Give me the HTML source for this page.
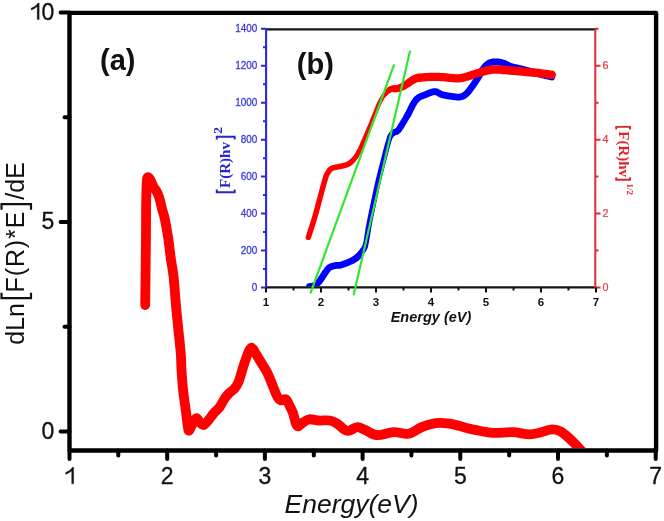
<!DOCTYPE html><html><head><meta charset="utf-8"><style>html,body{margin:0;padding:0;background:#fff;width:664px;height:521px;overflow:hidden}svg{display:block;will-change:transform}</style></head><body>
<svg width="664" height="521" viewBox="0 0 664 521" font-family="Liberation Sans, sans-serif">
<rect width="664" height="521" fill="#fff"/>
<defs><clipPath id="mc"><rect x="71.7" y="14.9" width="582" height="433.4"/></clipPath><clipPath id="ic"><rect x="267" y="29.8" width="327.5" height="256.7"/></clipPath></defs>
<g clip-path="url(#mc)"><path d="M145.2,305.0 C145.3,299.2 145.5,281.7 145.6,270.0 C145.7,258.3 145.9,245.3 146.0,235.0 C146.1,224.7 146.0,215.7 146.1,208.0 C146.2,200.3 146.3,194.0 146.5,189.0 C146.7,184.0 146.7,179.4 147.3,177.8 C147.9,176.2 149.0,177.8 150.0,179.2 C151.0,180.6 151.9,183.7 153.2,186.1 C154.5,188.5 156.6,191.1 157.7,193.5 C158.8,195.9 159.3,197.7 160.0,200.3 C160.7,202.9 161.3,206.0 162.1,209.2 C162.9,212.3 163.9,214.3 164.9,219.2 C165.9,224.1 167.3,232.1 168.3,238.5 C169.3,244.9 169.8,251.3 170.7,257.7 C171.6,264.1 172.8,269.8 173.6,276.9 C174.4,283.9 174.8,291.7 175.5,300.0 C176.2,308.3 177.2,317.9 178.1,326.9 C179.0,335.9 180.2,346.6 180.8,353.8 C181.4,361.0 181.1,363.9 181.5,370.0 C181.9,376.1 182.4,383.5 183.1,390.2 C183.8,396.9 185.0,404.2 185.8,410.3 C186.6,416.4 187.2,423.1 187.8,426.5 C188.4,429.9 188.3,430.9 189.1,430.5 C189.9,430.1 191.3,425.9 192.5,423.8 C193.7,421.8 195.2,418.3 196.5,418.2 C197.8,418.1 199.3,422.0 200.5,423.1 C201.7,424.2 202.6,425.5 203.9,425.0 C205.2,424.5 206.9,422.0 208.6,420.0 C210.3,418.0 212.2,415.1 214.0,413.0 C215.8,410.9 217.6,409.9 219.4,407.5 C221.2,405.1 223.1,400.8 224.7,398.5 C226.3,396.2 227.2,395.1 228.8,393.5 C230.4,391.9 232.5,390.9 234.1,389.0 C235.7,387.1 236.9,385.9 238.5,382.0 C240.1,378.1 241.9,370.6 243.6,365.7 C245.2,360.8 247.0,355.3 248.4,352.3 C249.8,349.3 250.6,347.5 251.9,347.8 C253.2,348.1 254.4,351.5 256.1,354.2 C257.8,356.9 260.0,360.6 261.9,363.8 C263.8,367.0 265.9,369.9 267.6,373.4 C269.4,376.9 270.8,381.1 272.4,384.9 C274.0,388.7 275.8,393.8 277.2,396.4 C278.6,399.0 279.6,399.8 281.0,400.3 C282.4,400.8 284.4,398.4 285.9,399.3 C287.3,400.2 288.5,403.7 289.7,406.0 C290.9,408.3 291.9,410.0 293.0,413.0 C294.1,416.0 295.1,421.7 296.0,423.9 C296.9,426.1 297.4,426.5 298.6,426.2 C299.8,425.9 301.5,423.4 303.3,422.3 C305.1,421.2 306.7,419.6 309.3,419.3 C311.9,419.0 315.5,420.3 318.9,420.5 C322.3,420.7 326.8,420.0 329.8,420.5 C332.8,421.0 334.6,422.0 337.0,423.5 C339.4,425.0 342.2,428.3 344.2,429.5 C346.2,430.7 346.8,431.1 349.0,430.7 C351.2,430.3 354.8,427.2 357.5,427.1 C360.2,427.0 361.8,428.6 365.0,429.9 C368.2,431.2 372.2,434.8 377.0,435.2 C381.8,435.6 388.3,432.4 393.6,432.2 C398.9,431.9 403.9,434.6 408.7,433.7 C413.5,432.8 417.7,428.7 422.2,426.9 C426.7,425.1 431.3,423.7 435.8,423.1 C440.3,422.6 445.3,423.1 449.3,423.6 C453.3,424.1 455.7,425.1 460.0,426.1 C464.3,427.2 469.6,428.8 475.1,429.9 C480.6,431.0 486.8,432.5 493.1,432.9 C499.4,433.3 506.7,431.9 512.7,432.2 C518.7,432.4 524.5,434.4 529.3,434.4 C534.1,434.4 537.5,433.1 541.3,432.2 C545.1,431.3 549.1,429.4 552.3,429.3 C555.5,429.2 557.6,429.8 560.5,431.3 C563.4,432.8 566.8,436.1 569.5,438.5 C572.2,440.9 574.8,443.8 577.0,446.0 C579.2,448.2 581.6,451.0 582.5,452.0" fill="none" stroke="#ff0000" stroke-width="9.8" stroke-linecap="round" stroke-linejoin="round"/></g>
<path d="M69.5,450.5 L69.5,12.9 L656.1,12.9 L656.1,450.5 Z" fill="none" stroke="#000" stroke-width="4.4" stroke-linejoin="round"/>
<path d="M60.6,431.5 H69.5 M60.6,222.0 H69.5 M60.6,12.5 H69.5 M64.5,326.8 H69.5 M64.5,117.2 H69.5 M69.5,450.5 V459 M167.2,450.5 V459 M264.9,450.5 V459 M362.6,450.5 V459 M460.3,450.5 V459 M558.0,450.5 V459 M655.7,450.5 V459 M118.3,450.5 V455.5 M216.1,450.5 V455.5 M313.8,450.5 V455.5 M411.4,450.5 V455.5 M509.2,450.5 V455.5 M606.9,450.5 V455.5" stroke="#000" stroke-width="4" stroke-linecap="round"/>
<text x="54.2" y="438.5" font-size="23" text-anchor="end" fill="#111" stroke="#111" stroke-width="0.3">0</text>
<text x="54.2" y="229.0" font-size="23" text-anchor="end" fill="#111" stroke="#111" stroke-width="0.3">5</text>
<path transform="translate(28.62,19.50) scale(0.01123,-0.01123)" d="M763,0 H942 V1466 H826 C780,1380 710,1300 610,1220 C510,1140 390,1075 223,1010 V838 C320,872 410,915 500,968 C590,1020 700,1090 763,1147 Z" fill="#111" stroke="#111" stroke-width="26"/>
<text x="41.41" y="19.5" font-size="23" fill="#111" stroke="#111" stroke-width="0.3">0</text>
<path transform="translate(63.10,483.80) scale(0.01123,-0.01123)" d="M763,0 H942 V1466 H826 C780,1380 710,1300 610,1220 C510,1140 390,1075 223,1010 V838 C320,872 410,915 500,968 C590,1020 700,1090 763,1147 Z" fill="#111" stroke="#111" stroke-width="26"/>
<text x="167.2" y="483.8" font-size="23" text-anchor="middle" fill="#111" stroke="#111" stroke-width="0.3">2</text>
<text x="264.9" y="483.8" font-size="23" text-anchor="middle" fill="#111" stroke="#111" stroke-width="0.3">3</text>
<text x="362.6" y="483.8" font-size="23" text-anchor="middle" fill="#111" stroke="#111" stroke-width="0.3">4</text>
<text x="460.3" y="483.8" font-size="23" text-anchor="middle" fill="#111" stroke="#111" stroke-width="0.3">5</text>
<text x="558.0" y="483.8" font-size="23" text-anchor="middle" fill="#111" stroke="#111" stroke-width="0.3">6</text>
<text x="655.7" y="483.8" font-size="23" text-anchor="middle" fill="#111" stroke="#111" stroke-width="0.3">7</text>
<text x="284.5" y="512.5" font-size="26.5" font-style="italic" fill="#111">Energy(eV)</text>
<g transform="translate(24,345) rotate(-90)" fill="#111" font-size="25"><text x="0.3" y="0">dLn</text><path d="M52.3,-22.5 H46.8 V7 H52.3 M135.2,-22.5 H140.8 V7 H135.2" stroke="#111" stroke-width="2.2" fill="none"/><text x="52.5" y="0" letter-spacing="0.9">F(R)*E</text><text x="145.3" y="0">/dE</text></g>
<text x="100" y="69.5" font-size="29" font-weight="bold" fill="#111">(a)</text>
<g clip-path="url(#ic)">
<path d="M364.62,247.62 L365.06,246.47 M365.06,246.47 L365.50,245.00 M365.50,245.00 L365.93,243.16 M365.93,243.16 L366.35,241.00 M366.35,241.00 L366.77,238.58 M366.77,238.58 L367.19,235.97 M367.19,235.97 L367.61,233.24 M367.61,233.24 L368.05,230.46 M368.05,230.46 L368.51,227.69 M368.51,227.69 L369.00,225.00 M369.00,225.00 L369.51,222.35 M369.51,222.35 L370.04,219.66 M370.04,219.66 L370.59,216.94 M370.59,216.94 L371.16,214.19 M371.16,214.19 L371.73,211.41 M371.73,211.41 L372.32,208.62 M372.32,208.62 L372.91,205.81 M372.91,205.81 L373.50,203.00 M373.50,203.00 L374.10,200.15 M374.10,200.15 L374.71,197.25 M374.71,197.25 L375.33,194.32 M375.33,194.32 L375.96,191.38 M375.96,191.38 L376.60,188.45 M376.60,188.45 L377.23,185.56 M377.23,185.56 L377.87,182.74 M377.87,182.74 L378.50,180.00 M378.50,180.00 L379.14,177.32 M379.14,177.32 L379.80,174.67 M379.80,174.67 L380.46,172.06 M380.46,172.06 L381.12,169.50 M381.12,169.50 L381.77,167.00 M381.77,167.00 L382.41,164.58 M382.41,164.58 L383.02,162.24 M383.02,162.24 L383.60,160.00 M383.60,160.00 L384.15,157.84 M384.15,157.84 L384.68,155.76 M384.68,155.76 L385.19,153.75 M385.19,153.75 L385.68,151.81 M385.68,151.81 L386.16,149.97 M386.16,149.97 L386.62,148.21 M386.62,148.21 L387.06,146.55 M387.06,146.55 L387.50,145.00 M387.50,145.00 L387.91,143.55 M387.91,143.55 L388.30,142.20 M388.30,142.20 L388.67,140.94 M388.67,140.94 L389.02,139.78 M389.02,139.78 L389.38,138.71 M389.38,138.71 L389.74,137.72 M389.74,137.72 L390.11,136.82 M390.11,136.82 L390.50,136.00" stroke="#0000ff" stroke-width="5.50" stroke-linecap="round" fill="none"/><path d="M362.88,250.33 L363.31,249.80 M363.31,249.80 L363.75,249.22 M363.75,249.22 L364.19,248.51 M364.19,248.51 L364.62,247.62 M390.50,136.00 L390.91,135.29 M390.91,135.29 L391.33,134.70 M391.33,134.70 L391.75,134.22 M391.75,134.22 L392.19,133.81 M392.19,133.81 L392.63,133.46" stroke="#0000ff" stroke-width="5.75" stroke-linecap="round" fill="none"/><path d="M360.73,253.38 L361.15,252.79 M361.15,252.79 L361.57,252.17 M361.57,252.17 L362.00,251.50 M362.00,251.50 L362.44,250.88 M362.44,250.88 L362.88,250.33 M392.63,133.46 L393.08,133.14 M393.08,133.14 L393.54,132.83 M393.54,132.83 L394.00,132.50 M394.00,132.50 L394.47,132.22" stroke="#0000ff" stroke-width="6.00" stroke-linecap="round" fill="none"/><path d="M358.50,256.00 L358.99,255.50 M358.99,255.50 L359.45,254.99 M359.45,254.99 L359.89,254.47 M359.89,254.47 L360.31,253.94 M360.31,253.94 L360.73,253.38 M394.47,132.22 L394.93,132.05 M394.93,132.05 L395.40,131.93 M395.40,131.93 L395.88,131.81 M395.88,131.81 L396.37,131.66" stroke="#0000ff" stroke-width="6.25" stroke-linecap="round" fill="none"/><path d="M356.41,257.84 L356.95,257.41 M356.95,257.41 L357.48,256.96 M357.48,256.96 L358.00,256.49 M358.00,256.49 L358.50,256.00 M396.37,131.66 L396.88,131.42 M396.88,131.42 L397.42,131.05 M397.42,131.05 L398.00,130.50 M398.00,130.50 L398.62,129.75 M398.62,129.75 L399.28,128.83 M399.28,128.83 L399.97,127.79 M399.97,127.79 L400.69,126.66 M400.69,126.66 L401.41,125.47 M401.41,125.47 L402.12,124.28 M402.12,124.28 L402.83,123.11 M402.83,123.11 L403.50,122.00 M403.50,122.00 L404.15,120.94 M404.15,120.94 L404.79,119.90 M404.79,119.90 L405.42,118.86 M405.42,118.86 L406.04,117.81 M406.04,117.81 L406.66,116.76 M406.66,116.76 L407.28,115.70 M407.28,115.70 L407.89,114.61" stroke="#0000ff" stroke-width="6.50" stroke-linecap="round" fill="none"/><path d="M309.50,286.50 L309.90,286.44 M309.90,286.44 L310.43,286.39 M310.43,286.39 L311.06,286.33 M311.06,286.33 L311.76,286.25 M311.76,286.25 L312.50,286.14 M312.50,286.14 L313.24,285.98 M313.24,285.98 L313.95,285.78 M313.95,285.78 L314.60,285.50 M314.60,285.50 L315.19,285.18 M315.19,285.18 L315.75,284.83 M315.75,284.83 L316.30,284.44 M316.30,284.44 L316.84,284.00 M316.84,284.00 L317.39,283.50 M317.39,283.50 L317.96,282.92 M317.96,282.92 L318.56,282.26 M318.56,282.26 L319.20,281.50 M319.20,281.50 L319.90,280.59 M319.90,280.59 L320.66,279.51 M320.66,279.51 L321.46,278.32 M321.46,278.32 L322.28,277.06 M322.28,277.06 L323.09,275.80 M323.09,275.80 L323.87,274.59 M323.87,274.59 L324.62,273.47 M324.62,273.47 L325.30,272.50 M325.30,272.50 L325.90,271.66 M325.90,271.66 L326.44,270.90 M326.44,270.90 L326.93,270.20 M326.93,270.20 L327.39,269.56 M327.39,269.56 L327.86,268.98 M327.86,268.98 L328.35,268.45 M328.35,268.45 L328.89,267.95 M328.89,267.95 L329.50,267.50 M329.50,267.50 L330.19,267.09 M330.19,267.09 L330.95,266.75 M330.95,266.75 L331.76,266.46 M331.76,266.46 L332.59,266.21 M332.59,266.21 L333.43,265.99 M333.43,265.99 L334.24,265.81 M334.24,265.81 L335.00,265.65 M335.00,265.65 L335.70,265.50 M335.70,265.50 L336.30,265.40 M336.30,265.40 L336.82,265.36 M336.82,265.36 L337.29,265.37 M337.29,265.37 L337.74,265.39 M337.74,265.39 L338.20,265.41 M338.20,265.41 L338.71,265.40 M338.71,265.40 L339.30,265.34 M339.30,265.34 L340.00,265.20 M340.00,265.20 L340.84,264.98 M340.84,264.98 L341.79,264.70 M341.79,264.70 L342.82,264.38 M342.82,264.38 L343.89,264.02 M343.89,264.02 L344.98,263.64 M344.98,263.64 L346.05,263.25 M346.05,263.25 L347.07,262.87 M347.07,262.87 L348.00,262.50 M348.00,262.50 L348.86,262.14 M348.86,262.14 L349.68,261.78 M349.68,261.78 L350.46,261.42 M350.46,261.42 L351.22,261.05 M351.22,261.05 L351.95,260.67 M351.95,260.67 L352.65,260.29 M352.65,260.29 L353.34,259.90 M353.34,259.90 L354.00,259.50 M354.00,259.50 L354.64,259.09 M354.64,259.09 L355.25,258.68 M355.25,258.68 L355.84,258.27 M355.84,258.27 L356.41,257.84 M407.89,114.61 L408.50,113.50 M408.50,113.50 L409.11,112.34 M409.11,112.34 L409.72,111.11 M409.72,111.11 L410.32,109.86 M410.32,109.86 L410.92,108.59 M410.92,108.59 L411.52,107.35 M411.52,107.35 L412.11,106.15 M412.11,106.15 L412.71,105.03 M412.71,105.03 L413.30,104.00 M413.30,104.00 L413.87,103.06 M413.87,103.06 L414.41,102.19 M414.41,102.19 L414.94,101.38 M414.94,101.38 L415.48,100.62 M415.48,100.62 L416.03,99.91 M416.03,99.91 L416.62,99.24 M416.62,99.24 L417.27,98.60 M417.27,98.60 L418.00,98.00 M418.00,98.00 L418.80,97.45 M418.80,97.45 L419.66,96.96 M419.66,96.96 L420.57,96.52 M420.57,96.52 L421.52,96.11 M421.52,96.11 L422.51,95.73 M422.51,95.73 L423.52,95.36 M423.52,95.36 L424.55,94.99 M424.55,94.99 L425.60,94.60 M425.60,94.60 L426.69,94.16 M426.69,94.16 L427.83,93.68 M427.83,93.68 L429.02,93.18 M429.02,93.18 L430.23,92.70 M430.23,92.70 L431.43,92.27 M431.43,92.27 L432.60,91.92 M432.60,91.92 L433.73,91.69 M433.73,91.69 L434.80,91.60 M434.80,91.60 L435.78,91.70 M435.78,91.70 L436.68,91.96 M436.68,91.96 L437.54,92.34 M437.54,92.34 L438.37,92.80 M438.37,92.80 L439.20,93.30 M439.20,93.30 L440.07,93.79 M440.07,93.79 L440.99,94.24 M440.99,94.24 L442.00,94.60 M442.00,94.60 L443.10,94.89 M443.10,94.89 L444.28,95.16 M444.28,95.16 L445.51,95.42 M445.51,95.42 L446.77,95.65 M446.77,95.65 L448.05,95.87 M448.05,95.87 L449.31,96.06 M449.31,96.06 L450.53,96.24 M450.53,96.24 L451.70,96.40 M451.70,96.40 L452.83,96.56 M452.83,96.56 L453.95,96.72 M453.95,96.72 L455.05,96.87 M455.05,96.87 L456.13,97.00 M456.13,97.00 L457.18,97.09 M457.18,97.09 L458.20,97.13 M458.20,97.13 L459.17,97.11 M459.17,97.11 L460.10,97.00 M460.10,97.00 L460.96,96.83 M460.96,96.83 L461.77,96.61 M461.77,96.61 L462.52,96.34 M462.52,96.34 L463.24,96.01 M463.24,96.01 L463.95,95.61 M463.95,95.61 L464.65,95.15 M464.65,95.15 L465.36,94.61 M465.36,94.61 L466.10,94.00 M466.10,94.00 L466.86,93.29 M466.86,93.29 L467.62,92.48 M467.62,92.48 L468.38,91.58 M468.38,91.58 L469.15,90.62 M469.15,90.62 L469.92,89.62 M469.92,89.62 L470.68,88.59 M470.68,88.59 L471.44,87.54 M471.44,87.54 L472.20,86.50 M472.20,86.50 L472.96,85.44 M472.96,85.44 L473.74,84.34 M473.74,84.34 L474.51,83.21 M474.51,83.21 L475.28,82.06 M475.28,82.06 L476.04,80.90 M476.04,80.90 L476.79,79.75 M476.79,79.75 L477.51,78.61 M477.51,78.61 L478.20,77.50 M478.20,77.50 L478.85,76.40 M478.85,76.40 L479.46,75.28 M479.46,75.28 L480.04,74.16 M480.04,74.16 L480.60,73.05 M480.60,73.05 L481.16,71.97 M481.16,71.97 L481.74,70.92 M481.74,70.92 L482.35,69.93 M482.35,69.93 L483.00,69.00 M483.00,69.00 L483.68,68.12 M483.68,68.12 L484.39,67.26 M484.39,67.26 L485.10,66.43 M485.10,66.43 L485.84,65.66 M485.84,65.66 L486.60,64.93 M486.60,64.93 L487.38,64.28 M487.38,64.28 L488.18,63.70 M488.18,63.70 L489.00,63.20 M489.00,63.20 L489.84,62.79 M489.84,62.79 L490.71,62.47 M490.71,62.47 L491.59,62.22 M491.59,62.22 L492.50,62.03 M492.50,62.03 L493.42,61.90 M493.42,61.90 L494.37,61.83 M494.37,61.83 L495.33,61.80 M495.33,61.80 L496.30,61.80 M496.30,61.80 L497.32,61.86 M497.32,61.86 L498.40,61.98 M498.40,61.98 L499.51,62.16 M499.51,62.16 L500.62,62.39 M500.62,62.39 L501.73,62.65 M501.73,62.65 L502.79,62.92 M502.79,62.92 L503.79,63.21 M503.79,63.21 L504.70,63.50 M504.70,63.50 L505.46,63.79 M505.46,63.79 L506.06,64.11 M506.06,64.11 L506.56,64.45 M506.56,64.45 L507.04,64.81 M507.04,64.81 L507.56,65.17 M507.56,65.17 L508.19,65.55 M508.19,65.55 L508.98,65.92" stroke="#0000ff" stroke-width="6.75" stroke-linecap="round" fill="none"/><path d="M508.98,65.92 L510.00,66.30 M510.00,66.30 L511.26,66.67 M511.26,66.67 L512.68,67.04 M512.68,67.04 L514.25,67.40 M514.25,67.40 L515.93,67.78 M515.93,67.78 L517.70,68.17 M517.70,68.17 L519.54,68.59 M519.54,68.59 L521.42,69.03 M521.42,69.03 L523.30,69.50 M523.30,69.50 L525.27,70.03 M525.27,70.03 L527.38,70.62 M527.38,70.62 L529.57,71.24 M529.57,71.24 L531.81,71.88 M531.81,71.88 L534.03,72.52 M534.03,72.52 L536.18,73.13 M536.18,73.13 L538.22,73.70 M538.22,73.70 L540.10,74.20 M540.10,74.20 L541.88,74.65 M541.88,74.65 L543.64,75.08 M543.64,75.08 L545.34,75.48 M545.34,75.48 L546.95,75.84 M546.95,75.84 L548.43,76.17 M548.43,76.17 L549.74,76.46 M549.74,76.46 L550.84,76.71 M550.84,76.71 L551.70,76.90" stroke="#0000ff" stroke-width="7.00" stroke-linecap="round" fill="none"/>
<path d="M358.77,151.72 L359.67,149.84 M359.67,149.84 L360.56,147.88 M360.56,147.88 L361.45,145.86 M361.45,145.86 L362.32,143.84 M362.32,143.84 L363.17,141.88 M363.17,141.88 L364.00,140.00 M364.00,140.00 L364.80,138.20 M364.80,138.20 L365.58,136.42 M365.58,136.42 L366.35,134.66 M366.35,134.66 L367.09,132.91 M367.09,132.91 L367.83,131.18 M367.83,131.18 L368.56,129.45 M368.56,129.45 L369.28,127.72 M369.28,127.72 L370.00,126.00 M370.00,126.00 L370.72,124.25 M370.72,124.25 L371.44,122.48 M371.44,122.48 L372.16,120.70 M372.16,120.70 L372.87,118.94 M372.87,118.94 L373.56,117.20 M373.56,117.20 L374.24,115.52 M374.24,115.52 L374.88,113.92 M374.88,113.92 L375.50,112.40 M375.50,112.40 L376.08,110.98 M376.08,110.98 L376.61,109.63 M376.61,109.63 L377.12,108.35 M377.12,108.35 L377.61,107.12 M377.61,107.12 L378.09,105.95 M378.09,105.95 L378.57,104.81 M378.57,104.81 L379.07,103.69 M379.07,103.69 L379.60,102.60 M379.60,102.60 L380.14,101.53 M380.14,101.53 L380.68,100.50 M380.68,100.50 L381.22,99.51 M381.22,99.51 L381.77,98.54 M381.77,98.54 L382.34,97.61 M382.34,97.61 L382.93,96.71 M382.93,96.71 L383.55,95.84 M383.55,95.84 L384.20,95.00 M384.20,95.00 L384.89,94.16" stroke="#ff0000" stroke-width="4.50" stroke-linecap="round" fill="none"/><path d="M356.12,156.37 L357.00,155.00 M357.00,155.00 L357.88,153.45 M357.88,153.45 L358.77,151.72 M384.89,94.16 L385.60,93.33" stroke="#ff0000" stroke-width="4.75" stroke-linecap="round" fill="none"/><path d="M353.43,159.78 L354.32,158.75 M354.32,158.75 L355.22,157.62 M355.22,157.62 L356.12,156.37 M385.60,93.33 L386.35,92.51 M386.35,92.51 L387.11,91.72" stroke="#ff0000" stroke-width="5.00" stroke-linecap="round" fill="none"/><path d="M351.67,161.55 L352.54,160.71 M352.54,160.71 L353.43,159.78 M387.11,91.72 L387.90,91.00" stroke="#ff0000" stroke-width="5.25" stroke-linecap="round" fill="none"/><path d="M308.40,237.30 L308.90,235.74 M308.90,235.74 L309.57,233.67 M309.57,233.67 L310.36,231.21 M310.36,231.21 L311.24,228.46 M311.24,228.46 L312.17,225.56 M312.17,225.56 L313.10,222.60 M313.10,222.60 L313.99,219.71 M313.99,219.71 L314.80,217.00 M314.80,217.00 L315.55,214.39 M315.55,214.39 L316.29,211.73 M316.29,211.73 L317.02,209.04 M317.02,209.04 L317.74,206.36 M317.74,206.36 L318.44,203.69 M318.44,203.69 L319.14,201.06 M319.14,201.06 L319.83,198.49 M319.83,198.49 L320.50,196.00 M320.50,196.00 L321.18,193.52 M321.18,193.52 L321.86,191.00 M321.86,191.00 L322.54,188.48 M322.54,188.48 L323.20,186.03 M323.20,186.03 L323.84,183.70 M323.84,183.70 L324.44,181.55 M324.44,181.55 L325.00,179.63 M325.00,179.63 L325.50,178.00 M325.50,178.00 L325.93,176.70 M325.93,176.70 L326.28,175.71 M326.28,175.71 L326.58,174.96 M326.58,174.96 L326.84,174.38 M326.84,174.38 L327.10,173.90 M327.10,173.90 L327.36,173.48 M327.36,173.48 L327.66,173.03 M327.66,173.03 L328.00,172.50 M328.00,172.50 L328.37,171.91 M328.37,171.91 L328.75,171.34 M328.75,171.34 L329.13,170.78 M329.13,170.78 L329.53,170.25 M329.53,170.25 L329.96,169.75 M329.96,169.75 L330.43,169.29 M330.43,169.29 L330.94,168.87 M330.94,168.87 L331.50,168.50 M331.50,168.50 L332.13,168.19 M332.13,168.19 L332.81,167.95 M332.81,167.95 L333.54,167.75 M333.54,167.75 L334.30,167.59 M334.30,167.59 L335.09,167.45 M335.09,167.45 L335.89,167.32 M335.89,167.32 L336.70,167.17 M336.70,167.17 L337.50,167.00 M337.50,167.00 L338.31,166.82 M338.31,166.82 L339.15,166.65 M339.15,166.65 L340.00,166.48 M340.00,166.48 L340.86,166.31 M340.86,166.31 L341.72,166.14 M341.72,166.14 L342.57,165.95 M342.57,165.95 L343.40,165.74 M343.40,165.74 L344.20,165.50 M344.20,165.50 L344.96,165.27 M344.96,165.27 L345.69,165.07 M345.69,165.07 L346.39,164.88 M346.39,164.88 L347.08,164.66 M347.08,164.66 L347.78,164.38 M347.78,164.38 L348.49,164.04 M348.49,164.04 L349.22,163.58 M349.22,163.58 L350.00,163.00 M350.00,163.00 L350.82,162.31 M350.82,162.31 L351.67,161.55 M387.90,91.00 L388.71,90.34 M388.71,90.34 L389.55,89.77" stroke="#ff0000" stroke-width="5.50" stroke-linecap="round" fill="none"/><path d="M389.55,89.77 L390.40,89.30" stroke="#ff0000" stroke-width="5.75" stroke-linecap="round" fill="none"/><path d="M390.40,89.30 L391.28,88.99 M391.28,88.99 L392.20,88.82" stroke="#ff0000" stroke-width="6.00" stroke-linecap="round" fill="none"/><path d="M392.20,88.82 L393.14,88.77" stroke="#ff0000" stroke-width="6.25" stroke-linecap="round" fill="none"/><path d="M393.14,88.77 L394.11,88.78" stroke="#ff0000" stroke-width="6.50" stroke-linecap="round" fill="none"/><path d="M394.11,88.78 L395.08,88.80" stroke="#ff0000" stroke-width="6.75" stroke-linecap="round" fill="none"/><path d="M395.08,88.80 L396.06,88.79 M396.06,88.79 L397.04,88.71 M397.04,88.71 L398.00,88.50 M398.00,88.50 L398.96,88.19" stroke="#ff0000" stroke-width="7.00" stroke-linecap="round" fill="none"/><path d="M398.96,88.19 L399.92,87.81 M399.92,87.81 L400.88,87.39 M400.88,87.39 L401.84,86.92 M401.84,86.92 L402.81,86.42 M402.81,86.42 L403.77,85.90" stroke="#ff0000" stroke-width="7.25" stroke-linecap="round" fill="none"/><path d="M403.77,85.90 L404.74,85.35 M404.74,85.35 L405.70,84.80 M405.70,84.80 L406.67,84.20 M406.67,84.20 L407.66,83.53 M407.66,83.53 L408.66,82.81" stroke="#ff0000" stroke-width="7.50" stroke-linecap="round" fill="none"/><path d="M408.66,82.81 L409.65,82.09 M409.65,82.09 L410.63,81.37 M410.63,81.37 L411.59,80.70 M411.59,80.70 L412.51,80.10 M412.51,80.10 L413.40,79.60" stroke="#ff0000" stroke-width="7.75" stroke-linecap="round" fill="none"/><path d="M413.40,79.60 L414.20,79.20 M414.20,79.20 L414.89,78.87 M414.89,78.87 L415.53,78.60 M415.53,78.60 L416.16,78.38 M416.16,78.38 L416.83,78.19 M416.83,78.19 L417.58,78.02 M417.58,78.02 L418.45,77.86" stroke="#ff0000" stroke-width="8.00" stroke-linecap="round" fill="none"/><path d="M418.45,77.86 L419.50,77.70 M419.50,77.70 L420.76,77.54 M420.76,77.54 L422.19,77.40 M422.19,77.40 L423.75,77.28 M423.75,77.28 L425.39,77.17 M425.39,77.17 L427.07,77.08 M427.07,77.08 L428.73,77.00 M428.73,77.00 L430.32,76.94 M430.32,76.94 L431.80,76.90 M431.80,76.90 L433.14,76.87 M433.14,76.87 L434.37,76.86 M434.37,76.86 L435.54,76.86 M435.54,76.86 L436.69,76.88 M436.69,76.88 L437.86,76.91 M437.86,76.91 L439.11,76.96 M439.11,76.96 L440.48,77.02 M440.48,77.02 L442.00,77.10 M442.00,77.10 L443.75,77.22 M443.75,77.22 L445.71,77.39 M445.71,77.39 L447.81,77.60 M447.81,77.60 L449.96,77.81 M449.96,77.81 L452.11,78.00 M452.11,78.00 L454.16,78.17 M454.16,78.17 L456.05,78.27 M456.05,78.27 L457.70,78.30 M457.70,78.30 L459.07,78.26 M459.07,78.26 L460.23,78.17 M460.23,78.17 L461.22,78.04 M461.22,78.04 L462.12,77.86 M462.12,77.86 L463.00,77.65 M463.00,77.65 L463.91,77.40 M463.91,77.40 L464.92,77.12 M464.92,77.12 L466.10,76.80 M466.10,76.80 L467.46,76.43 M467.46,76.43 L468.95,75.98 M468.95,75.98 L470.53,75.48 M470.53,75.48 L472.15,74.96 M472.15,74.96 L473.77,74.42 M473.77,74.42 L475.35,73.91 M475.35,73.91 L476.84,73.42 M476.84,73.42 L478.20,73.00 M478.20,73.00 L479.42,72.62 M479.42,72.62 L480.53,72.27 M480.53,72.27 L481.56,71.94" stroke="#ff0000" stroke-width="8.25" stroke-linecap="round" fill="none"/><path d="M481.56,71.94 L482.55,71.64 M482.55,71.64 L483.52,71.35 M483.52,71.35 L484.50,71.08 M484.50,71.08 L485.51,70.83 M485.51,70.83 L486.60,70.60 M486.60,70.60 L487.72,70.38 M487.72,70.38 L488.84,70.16 M488.84,70.16 L489.97,69.96 M489.97,69.96 L491.12,69.78 M491.12,69.78 L492.31,69.63 M492.31,69.63 L493.56,69.51 M493.56,69.51 L494.89,69.43 M494.89,69.43 L496.30,69.40 M496.30,69.40 L497.74,69.42 M497.74,69.42 L499.16,69.49 M499.16,69.49 L500.61,69.59 M500.61,69.59 L502.14,69.73 M502.14,69.73 L503.79,69.90 M503.79,69.90 L505.62,70.09 M505.62,70.09 L507.68,70.29 M507.68,70.29 L510.00,70.50 M510.00,70.50 L512.72,70.73 M512.72,70.73 L515.85,71.00 M515.85,71.00 L519.26,71.29 M519.26,71.29 L522.82,71.59 M522.82,71.59 L526.39,71.91 M526.39,71.91 L529.85,72.22 M529.85,72.22 L533.06,72.52 M533.06,72.52 L535.90,72.80 M535.90,72.80 L538.47,73.08 M538.47,73.08 L540.93,73.37 M540.93,73.37 L543.26,73.66 M543.26,73.66 L545.42,73.94 M545.42,73.94 L547.38,74.21 M547.38,74.21 L549.10,74.45 M549.10,74.45 L550.55,74.65 M550.55,74.65 L551.70,74.80" stroke="#ff0000" stroke-width="8.50" stroke-linecap="round" fill="none"/>
</g>
<path d="M266,29.3 H595.3 M266,287.4 H595.3" stroke="#151515" stroke-width="2.2" fill="none"/>
<path d="M266.1,28.3 V288.5" stroke="#2a2ad8" stroke-width="2.1" fill="none"/>
<path d="M261,287.5 H266 M261,250.5 H266 M261,213.6 H266 M261,176.6 H266 M261,139.7 H266 M261,102.7 H266 M261,65.8 H266 M261,28.8 H266 M263,269.0 H266 M263,232.1 H266 M263,195.1 H266 M263,158.2 H266 M263,121.2 H266 M263,84.2 H266 M263,47.3 H266" stroke="#2a2ad8" stroke-width="2" fill="none"/>
<text transform="translate(257.3,290.6) scale(0.92,1)" font-size="10.8" text-anchor="end" fill="#3a3ada" stroke="#3a3ada" stroke-width="0.3">0</text>
<text transform="translate(257.3,253.6) scale(0.92,1)" font-size="10.8" text-anchor="end" fill="#3a3ada" stroke="#3a3ada" stroke-width="0.3">200</text>
<text transform="translate(257.3,216.7) scale(0.92,1)" font-size="10.8" text-anchor="end" fill="#3a3ada" stroke="#3a3ada" stroke-width="0.3">400</text>
<text transform="translate(257.3,179.7) scale(0.92,1)" font-size="10.8" text-anchor="end" fill="#3a3ada" stroke="#3a3ada" stroke-width="0.3">600</text>
<text transform="translate(257.3,142.8) scale(0.92,1)" font-size="10.8" text-anchor="end" fill="#3a3ada" stroke="#3a3ada" stroke-width="0.3">800</text>
<text transform="translate(257.3,105.8) scale(0.92,1)" font-size="10.8" text-anchor="end" fill="#3a3ada" stroke="#3a3ada" stroke-width="0.3">1000</text>
<text transform="translate(257.3,68.9) scale(0.92,1)" font-size="10.8" text-anchor="end" fill="#3a3ada" stroke="#3a3ada" stroke-width="0.3">1200</text>
<text transform="translate(257.3,31.9) scale(0.92,1)" font-size="10.8" text-anchor="end" fill="#3a3ada" stroke="#3a3ada" stroke-width="0.3">1400</text>
<path d="M595.3,28 V288.5" stroke="#e62a35" stroke-width="2" fill="none"/>
<path d="M595.3,287.5 H600.5 M595.3,213.6 H600.5 M595.3,139.7 H600.5 M595.3,65.8 H600.5 M595.3,250.5 H598.5 M595.3,176.6 H598.5 M595.3,102.7 H598.5 M595.3,28.8 H598.5" stroke="#e62a35" stroke-width="2" fill="none"/>
<text x="602.5" y="290.6" font-size="10.8" fill="#e23a48" stroke="#e23a48" stroke-width="0.2">0</text>
<text x="602.5" y="216.7" font-size="10.8" fill="#e23a48" stroke="#e23a48" stroke-width="0.2">2</text>
<text x="602.5" y="142.8" font-size="10.8" fill="#e23a48" stroke="#e23a48" stroke-width="0.2">4</text>
<text x="602.5" y="68.9" font-size="10.8" fill="#e23a48" stroke="#e23a48" stroke-width="0.2">6</text>
<path d="M266.0,287.5 V292.5 M321.0,287.5 V292.5 M376.0,287.5 V292.5 M431.0,287.5 V292.5 M486.0,287.5 V292.5 M541.0,287.5 V292.5 M596.0,287.5 V292.5 M293.5,287.5 V290.5 M348.5,287.5 V290.5 M403.5,287.5 V290.5 M458.5,287.5 V290.5 M513.5,287.5 V290.5 M568.5,287.5 V290.5" stroke="#111" stroke-width="2" fill="none"/>
<path d="M310.7,292.6 L393.8,65.3 M353.8,294.3 L409.9,51.5" stroke="#2ee82e" stroke-width="2.2" stroke-linecap="round" fill="none"/>
<text x="266.0" y="305.5" font-size="11.5" font-weight="bold" text-anchor="middle" fill="#111">1</text>
<text x="321.0" y="305.5" font-size="11.5" font-weight="bold" text-anchor="middle" fill="#111">2</text>
<text x="376.0" y="305.5" font-size="11.5" font-weight="bold" text-anchor="middle" fill="#111">3</text>
<text x="431.0" y="305.5" font-size="11.5" font-weight="bold" text-anchor="middle" fill="#111">4</text>
<text x="486.0" y="305.5" font-size="11.5" font-weight="bold" text-anchor="middle" fill="#111">5</text>
<text x="541.0" y="305.5" font-size="11.5" font-weight="bold" text-anchor="middle" fill="#111">6</text>
<text x="596.0" y="305.5" font-size="11.5" font-weight="bold" text-anchor="middle" fill="#111">7</text>
<text x="431" y="321.6" font-size="14.5" font-weight="bold" font-style="italic" text-anchor="middle" fill="#111">Energy (eV)</text>
<text x="296.8" y="74" font-size="29" font-weight="bold" fill="#111">(b)</text>
<g transform="translate(230.4,192.2) rotate(-90)" font-family="Liberation Serif, serif" font-weight="bold" fill="#2626d0"><path d="M2.8,-13.6 H0 V4.3 H2.8 M52.7,-13.6 H55.5 V4.3 H52.7" stroke="#2626d0" stroke-width="2" fill="none"/><text x="4.3" y="0" font-size="15">F(R)hv</text><text x="58.4" y="-8.6" font-size="13.5">2</text></g>
<g transform="translate(619,126.9) rotate(90)" font-family="Liberation Serif, serif" font-weight="bold" fill="#e4222c"><path d="M2.6,-11 H0 V2.8 H2.6 M50.3,-11 H52.9 V2.8 H50.3" stroke="#e4222c" stroke-width="1.9" fill="none"/><text x="4.4" y="0" font-size="15">F(R)hv</text><text x="56.5" y="-8.3" font-size="9">1/2</text></g>
</svg></body></html>
